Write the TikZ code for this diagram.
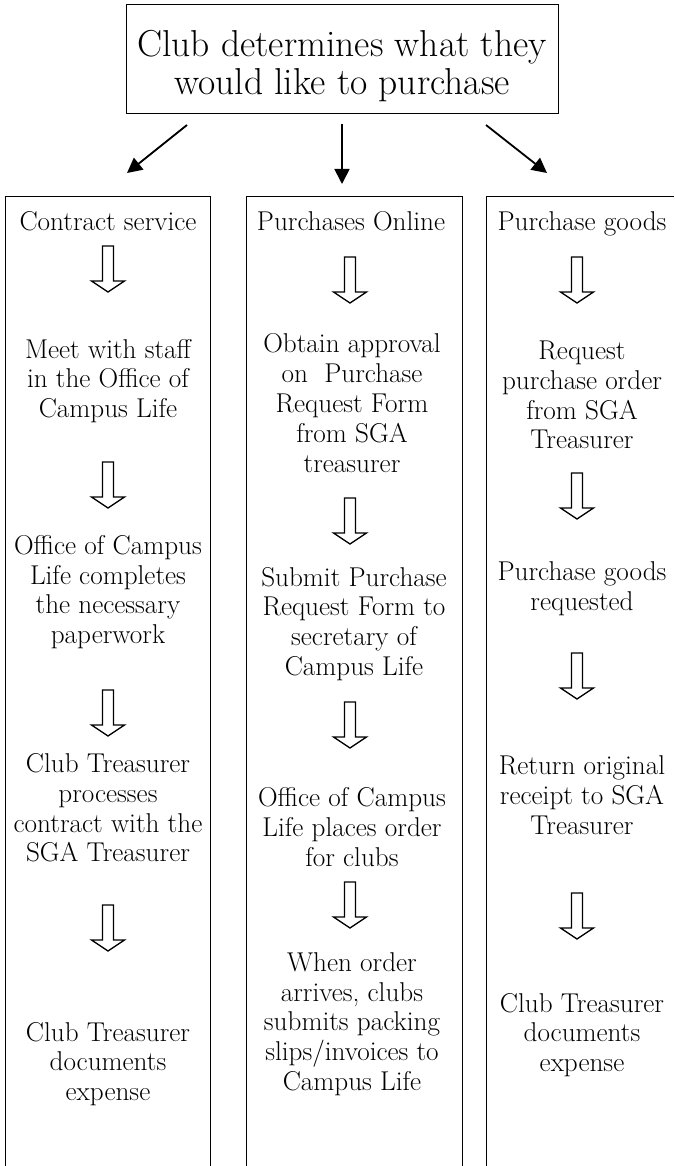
\documentclass[tikz,border=0pt]{standalone}
\usetikzlibrary{arrows.meta}
\tikzset{
  headtxt/.style={align=center, inner sep=0pt, font=\fontsize{37.5}{38}\selectfont},
  stagetxt/.style={align=center, inner sep=0pt, font=\fontsize{27.2}{29.8}\selectfont},
  fork/.style={-{Triangle[length=15pt,width=15pt]}, line width=1.8pt},
  colline/.style={line width=0.9pt},
  blockdown/.pic={\draw[line width=1.3pt, line join=miter, fill=white] (-5.5,0) -- (5.5,0) -- (5.5,35) -- (16.5,35) -- (0,46) -- (-16.5,35) -- (-5.5,35) -- cycle;}
}
\begin{document}
\begin{tikzpicture}[x=1pt,y=-1pt]
	\useasboundingbox (0,0) rectangle (674,1166);
	% top box
	\node[draw, line width=0.9pt, minimum width=432pt, minimum height=109pt, inner sep=0pt] (top) at (342,58.5) {};
	\node[headtxt] (toptxt) at (342,66) {Club determines what they\\would like to purchase};
	\coordinate (fl0) at (187,125);
	\coordinate (fl1) at (127,173);
	\coordinate (fm0) at (342,124);
	\coordinate (fm1) at (342,184);
	\coordinate (fr0) at (486,125);
	\coordinate (fr1) at (547,173);
	\draw[fork] (fl0) -- (fl1);
	\draw[fork] (fm0) -- (fm1);
	\draw[fork] (fr0) -- (fr1);
	% columns
	\draw[colline] (5,1166) -- (5,196) -- (210,196) -- (210,1166);
	\draw[colline] (246,1166) -- (246,196) -- (462,196) -- (462,1166);
	\draw[colline] (486,1166) -- (486,196) -- (674,196);
	% left column
	\node[stagetxt, anchor=base] (l0) at (108,230) {Contract service};
	\pic (la1) at (108,246) {blockdown};
	\node[stagetxt] (l1) at (108,381) {Meet with staff\\in the Office of\\Campus Life};
	\pic (la2) at (108,462) {blockdown};
	\node[stagetxt] (l2) at (108,592) {Office of Campus\\Life completes\\the necessary\\paperwork};
	\pic (la3) at (108,690) {blockdown};
	\node[stagetxt] (l3) at (108,808) {Club Treasurer\\processes\\contract with the\\SGA Treasurer};
	\pic (la4) at (108,905) {blockdown};
	\node[stagetxt] (l4) at (108,1064) {Club Treasurer\\documents\\expense};
	% middle column
	\node[stagetxt, anchor=base] (m0) at (351,230) {Purchases Online};
	\pic (ma1) at (350,257) {blockdown};
	\node[stagetxt] (m1) at (352,403) {Obtain approval\\on\ \ Purchase\\Request Form\\from SGA\\treasurer};
	\pic (ma2) at (350,498) {blockdown};
	\node[stagetxt] (m2) at (354,624) {Submit Purchase\\Request Form to\\secretary of\\Campus Life};
	\pic (ma3) at (350,702) {blockdown};
	\node[stagetxt] (m3) at (352,827) {Office of Campus\\Life places order\\for clubs};
	\pic (ma4) at (350,882) {blockdown};
	\node[stagetxt] (m4) at (352,1024) {When order\\arrives, clubs\\submits packing\\slips/invoices to\\Campus Life};
	% right column
	\node[stagetxt, anchor=base] (r0) at (582,230) {Purchase goods};
	\pic (ra1) at (577,257) {blockdown};
	\node[stagetxt] (r1) at (582,395) {Request\\purchase order\\from SGA\\Treasurer};
	\pic (ra2) at (577,473) {blockdown};
	\node[stagetxt] (r2) at (582,589) {Purchase goods\\requested};
	\pic (ra3) at (577,653) {blockdown};
	\node[stagetxt] (r3) at (582,795) {Return original\\receipt to SGA\\Treasurer};
	\pic (ra4) at (577,893) {blockdown};
	\node[stagetxt] (r4) at (582,1035) {Club Treasurer\\documents\\expense};
\end{tikzpicture}
\end{document}
